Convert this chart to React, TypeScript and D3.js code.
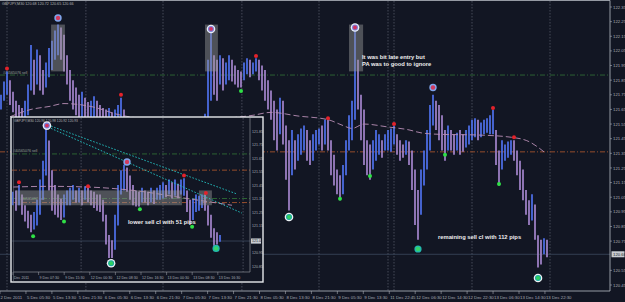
import React from "react";
import * as d3 from "d3";

// ---------- MAIN CHART DATA (GBPJPY M30) ----------
const mainHigh = [
  121.75, 121.84, 121.91, 121.85, 121.77, 121.71, 121.68, 121.66, 121.71, 121.82,
  122.09, 121.99, 122.06, 122.02, 121.92, 121.97, 122.07, 122.12, 122.19, 122.23,
  122.21, 122.16, 122.02, 121.92, 121.85, 121.80, 121.75, 121.77, 121.73, 121.70,
  121.71, 121.74, 121.71, 121.68, 121.66, 121.65, 121.66, 121.63, 121.65, 121.68,
  121.73, 121.65, 121.54, 121.50, 121.45, 121.42, 121.40, 121.44, 121.48, 121.46,
  121.42, 121.38, 121.35, 121.38, 121.42, 121.45, 121.48, 121.46, 121.43, 121.40,
  121.36, 121.30, 121.25, 121.28, 121.35, 121.45, 121.52, 121.58, 121.62, 121.99,
  122.19, 122.02, 121.99, 122.02, 122.00, 121.97, 122.02, 121.99, 121.95, 121.92,
  121.91, 121.97, 122.00, 121.99, 121.97, 122.00, 121.99, 121.95, 121.92, 121.85,
  121.78, 121.71, 121.65, 121.73, 121.71, 121.54, 121.44, 121.51, 121.44, 121.48,
  121.52, 121.54, 121.51, 121.44, 121.48, 121.51, 121.52, 121.54, 121.58, 121.58,
  121.44, 121.34, 121.24, 121.20, 121.27, 121.44, 121.61, 121.71, 122.19, 121.99,
  121.75, 121.65, 121.44, 121.41, 121.44, 121.51, 121.48, 121.44, 121.48, 121.51,
  121.52, 121.54, 121.48, 121.44, 121.41, 121.44, 121.43, 121.37, 121.24, 121.10,
  121.24, 121.37, 121.51, 121.68, 121.75, 121.71, 121.68, 121.61, 121.51, 121.54,
  121.51, 121.48, 121.49, 121.51, 121.48, 121.51, 121.54, 121.58, 121.59, 121.58,
  121.56, 121.58, 121.59, 121.61, 121.65, 121.51, 121.37, 121.44, 121.41, 121.43,
  121.44, 121.44, 121.37, 121.30, 121.24, 121.10, 121.03, 121.07, 121.00, 120.79,
  120.76, 120.77, 120.76,
];
const mainLow = [
  121.65, 121.71, 121.75, 121.68, 121.63, 121.59, 121.54, 121.51, 121.54, 121.61,
  121.78, 121.75, 121.82, 121.78, 121.75, 121.80, 121.87, 121.92, 121.99, 122.02,
  121.99, 121.91, 121.82, 121.71, 121.65, 121.61, 121.58, 121.59, 121.54, 121.51,
  121.52, 121.54, 121.51, 121.48, 121.44, 121.44, 121.46, 121.44, 121.46, 121.48,
  121.51, 121.48, 121.37, 121.35, 121.30, 121.25, 121.22, 121.28, 121.32, 121.30,
  121.26, 121.20, 121.15, 121.18, 121.25, 121.30, 121.33, 121.30, 121.28, 121.24,
  121.20, 121.12, 121.05, 121.10, 121.18, 121.28, 121.35, 121.42, 121.48, 121.59,
  121.71, 121.75, 121.71, 121.82, 121.78, 121.82, 121.85, 121.84, 121.82, 121.80,
  121.80, 121.85, 121.89, 121.87, 121.89, 121.91, 121.85, 121.78, 121.71, 121.65,
  121.58, 121.44, 121.37, 121.48, 121.41, 121.17, 120.96, 121.20, 121.24, 121.30,
  121.34, 121.37, 121.30, 121.27, 121.30, 121.37, 121.41, 121.37, 121.41, 121.37,
  121.20, 121.13, 121.07, 121.03, 121.07, 121.20, 121.37, 121.44, 121.58, 121.65,
  121.44, 121.27, 121.20, 121.17, 121.24, 121.30, 121.34, 121.32, 121.37, 121.37,
  121.36, 121.41, 121.34, 121.30, 121.32, 121.34, 121.27, 121.10, 120.86, 120.76,
  120.93, 121.13, 121.24, 121.37, 121.54, 121.51, 121.44, 121.37, 121.30, 121.37,
  121.37, 121.34, 121.37, 121.34, 121.36, 121.39, 121.41, 121.44, 121.46, 121.44,
  121.46, 121.48, 121.49, 121.48, 121.48, 121.27, 121.13, 121.24, 121.30, 121.32,
  121.34, 121.30, 121.20, 121.10, 121.03, 120.93, 120.86, 120.89, 120.76, 120.57,
  120.59, 120.66, 120.64,
];
const mainMaBar = [3, 10, 16, 21, 30, 40, 46, 60, 73, 84, 90, 99, 109, 114, 117, 121, 129, 136, 140, 146, 159, 170, 176, 181];
const mainMaVal = [121.60, 121.65, 121.67, 121.69, 121.67, 121.61, 121.59, 121.56, 121.585, 121.61, 121.63, 121.605, 121.58, 121.54, 121.52, 121.55, 121.53, 121.51, 121.49, 121.48, 121.475, 121.46, 121.43, 121.36];
// markers: [bar, price, kind]
const mainMarkers: [number, number, string][] = [
  [2, 121.93, "hi"], [40, 121.75, "hi"], [85, 122.015, "hi"], [109, 121.59, "hi"],
  [131, 121.55, "hi"], [164, 121.66, "hi"], [171, 121.46, "hi"],
  [80, 121.776, "lo"], [113, 121.04, "lo"], [123, 121.195, "lo"], [148, 121.34, "lo"], [166, 121.14, "lo"],
  [19, 122.275, "topB"], [70, 122.20, "topW"], [118, 122.21, "topW"], [144, 121.80, "topB"],
  [96, 120.915, "botW"], [139, 120.696, "botT"], [179, 120.498, "botW"],
];
// boxes: [startBar, endBar, high, low]
const mainBoxes: [number, number, number, number][] = [
  [16.7, 21.3, 122.23, 121.91], [68, 72.3, 122.23, 121.91], [116, 120.7, 122.23, 121.91],
];
const mainGridBars = [2, 28.3, 54, 80.3, 106, 129, 131, 157, 183];
const mainLevelSell = 121.885;
const mainLevelBrown = 121.36;
const mainCurrent = 120.66;
const mainPriceTicks = [122.35, 122.25, 122.15, 122.05, 121.95, 121.85, 121.75, 121.65, 121.55, 121.45, 121.35, 121.25, 121.15, 121.05, 120.95, 120.85, 120.75, 120.65, 120.55, 120.45];
const mainTimeLabels = [
  "2 Dec 2011", "5 Dec 05:30", "5 Dec 13:30", "5 Dec 21:30", "6 Dec 05:30", "6 Dec 13:30",
  "6 Dec 21:30", "7 Dec 05:30", "7 Dec 13:30", "7 Dec 21:30", "8 Dec 05:30", "8 Dec 13:30",
  "8 Dec 21:30", "9 Dec 05:30", "9 Dec 13:30", "11 Dec 22:45", "12 Dec 06:30", "12 Dec 14:30",
  "12 Dec 22:30", "13 Dec 06:30", "13 Dec 14:30", "13 Dec 22:30",
];

// ---------- INSET CHART DATA ----------
const insetHigh = [
  121.40, 121.41, 121.45, 121.38, 121.30, 121.26, 121.23, 121.25, 121.34, 121.49,
  121.63, 121.87, 121.78, 121.56, 121.45, 121.38, 121.35, 121.38, 121.41, 121.43,
  121.45, 121.41, 121.43, 121.41, 121.44, 121.43, 121.41, 121.40, 121.38, 121.38,
  121.34, 121.23, 121.08, 121.04, 121.23, 121.45, 121.56, 121.60, 121.58, 121.52,
  121.45, 121.41, 121.40, 121.43, 121.41, 121.40, 121.43, 121.41, 121.43, 121.45,
  121.47, 121.45, 121.49, 121.47, 121.49, 121.46, 121.49, 121.50, 121.41, 121.34,
  121.35, 121.38, 121.37, 121.38, 121.38, 121.30, 121.23, 121.13, 121.10, 121.08,
];
const insetLow = [
  121.30, 121.26, 121.30, 121.23, 121.18, 121.13, 121.10, 121.12, 121.15, 121.23,
  121.34, 121.52, 121.41, 121.26, 121.23, 121.21, 121.19, 121.21, 121.30, 121.30,
  121.34, 121.32, 121.32, 121.30, 121.34, 121.32, 121.30, 121.28, 121.26, 121.25,
  121.18, 121.01, 120.91, 120.91, 120.97, 121.15, 121.38, 121.41, 121.40, 121.34,
  121.30, 121.29, 121.29, 121.32, 121.32, 121.30, 121.32, 121.31, 121.34, 121.34,
  121.35, 121.36, 121.38, 121.35, 121.37, 121.35, 121.38, 121.37, 121.25, 121.16,
  121.19, 121.25, 121.26, 121.28, 121.26, 121.15, 121.06, 121.00, 121.01, 121.03,
];
const insetMaBar = [0, 12, 25, 40, 58, 73];
const insetMaVal = [121.435, 121.44, 121.435, 121.41, 121.35, 121.30];
const insetMarkers: [number, number, string][] = [
  [2, 121.47, "hi"], [25, 121.44, "hi"], [57, 121.52, "hi"], [64.3, 121.39, "hi"],
  [6.7, 121.07, "lo"], [17, 121.18, "lo"], [42.3, 121.27, "lo"], [59.7, 121.14, "lo"],
  [11.3, 121.89, "topW"], [38, 121.62, "topB"], [32.7, 120.87, "botW"], [67.7, 120.98, "botT"],
];
const insetBoxes: [number, number, number, number][] = [[1, 56.3, 121.41, 121.30], [62, 66.3, 121.41, 121.30]];
// trend lines: [bar1, price1, bar2, price2]
const insetTrend: [number, number, number, number][] = [[11.7, 121.894, 74.7, 121.383], [11.7, 121.879, 76.3, 121.242]];
const insetLevels: [number, string][] = [[121.68, "green"], [121.56, "brown"], [121.35, "green"], [121.32, "brown"]];
const insetGridBars = [22.7, 50, 76.7];
const insetCurrent = 121.035;
const insetPriceTicks = [121.85, 121.75, 121.65, 121.55, 121.45, 121.35, 121.25, 121.15, 121.05, 120.95, 120.85];
const insetTimeLabels = ["Dec 2011", "9 Dec 07:30", "9 Dec 15:30", "12 Dec 00:30", "12 Dec 08:30", "12 Dec 16:30", "13 Dec 00:30", "13 Dec 08:30", "13 Dec 16:30"];

const BG = "#121623";
const UP = "#4d6fe6";
const DN = "#9f82c8";
const AX = "#a9adb5";
const FONT = "Liberation Sans, Arial, sans-serif";

function Marker({ cx, cy, kind }: { cx: number; cy: number; kind: string }) {
  if (kind === "hi") return <circle cx={cx} cy={cy} r={2} fill="#e3232b" />;
  if (kind === "lo") return <circle cx={cx} cy={cy} r={2} fill="#2fe046" />;
  if (kind === "topW")
    return (
      <g>
        <circle cx={cx} cy={cy} r={4.3} fill="#e9eef8" />
        <circle cx={cx} cy={cy} r={3} fill="#7a7fd8" />
        <circle cx={cx} cy={cy} r={1.9} fill="#d2335e" />
      </g>
    );
  if (kind === "topB")
    return (
      <g>
        <circle cx={cx} cy={cy} r={3.7} fill="#80a6ec" />
        <circle cx={cx} cy={cy} r={2.2} fill="#d23a5e" />
      </g>
    );
  if (kind === "botW")
    return (
      <g>
        <circle cx={cx} cy={cy} r={4.3} fill="#eef3f6" />
        <circle cx={cx} cy={cy} r={3} fill="#1aa9a0" />
        <circle cx={cx} cy={cy} r={2} fill="#2fd060" />
      </g>
    );
  return (
    <g>
      <circle cx={cx} cy={cy} r={3.6} fill="#22b8b0" />
      <circle cx={cx} cy={cy} r={2.3} fill="#35d46a" />
    </g>
  );
}

function Bars({ hi, lo, x, y, w }: { hi: number[]; lo: number[]; x: any; y: any; w: number }) {
  return (
    <g>
      {hi.map((h, i) => {
        const mid = (h + lo[i]) / 2;
        const prev = i > 0 ? (hi[i - 1] + lo[i - 1]) / 2 : mid;
        const up = mid >= prev;
        return (
          <line key={i} x1={x(i)} x2={x(i)} y1={y(h)} y2={y(lo[i])} stroke={up ? UP : DN} strokeWidth={w} strokeOpacity={0.92} />
        );
      })}
    </g>
  );
}

export default function App() {
  // main scales
  const x = d3.scaleLinear().domain([0, mainHigh.length - 1]).range([1, 547]);
  const y = d3.scaleLinear().domain([120.45, 122.35]).range([285, 7]);
  const tx = d3.scaleLinear().domain([0, mainTimeLabels.length - 1]).range([0, 25.95 * (mainTimeLabels.length - 1)]);
  const maLine = d3.line<number>().x((d, i) => x(mainMaBar[i])).y((d) => y(d)).curve(d3.curveMonotoneX);

  // inset scales
  const ix = d3.scaleLinear().domain([0, insetHigh.length - 1]).range([13, 220]);
  const iy = d3.scaleLinear().domain([120.85, 121.85]).range([266, 131]);
  const itx = d3.scaleLinear().domain([0, insetTimeLabels.length - 1]).range([13, 13 + 25.6 * (insetTimeLabels.length - 1)]);
  const imaLine = d3.line<number>().x((d, i) => ix(insetMaBar[i])).y((d) => iy(d)).curve(d3.curveMonotoneX);

  const plotR = 610;
  const plotB = 291;
  const curY = y(mainCurrent);
  const icurY = iy(insetCurrent);

  return (
    <svg width={625} height={302} style={{ position: "fixed", left: 0, top: 0, background: BG }} fontFamily={FONT}>
      <rect x={0} y={0} width={625} height={302} fill={BG} />
      {/* main grid */}
      {mainGridBars.map((b, i) => (
        <line key={i} x1={x(b)} x2={x(b)} y1={1} y2={plotB} stroke="#5b6070" strokeWidth={0.7} strokeDasharray="1.5,1.5" />
      ))}
      {/* levels */}
      <line x1={0} x2={plotR} y1={y(mainLevelSell)} y2={y(mainLevelSell)} stroke="#2f6a34" strokeWidth={0.9} strokeDasharray="5,2,1,2" />
      <text x={3} y={y(mainLevelSell) - 1.5} fontSize={3.6} fill="#9aa09a">#40565076 sell</text>
      <line x1={0} x2={plotR} y1={y(mainLevelBrown)} y2={y(mainLevelBrown)} stroke="#a4522c" strokeWidth={0.9} strokeDasharray="5,2,1,2" />
      <line x1={0} x2={plotR} y1={curY} y2={curY} stroke="#3c4a60" strokeWidth={0.8} />
      {/* bars */}
      <Bars hi={mainHigh} lo={mainLow} x={x} y={y} w={1.9} />
      {/* MA */}
      <path d={maLine(mainMaVal) || ""} fill="none" stroke="#b98fb6" strokeWidth={0.9} strokeDasharray="6,3" />
      {/* boxes */}
      {mainBoxes.map((b, i) => (
        <rect key={i} x={x(b[0])} y={y(b[2])} width={x(b[1]) - x(b[0])} height={y(b[3]) - y(b[2])} fill="#9a9a9a" fillOpacity={0.45} />
      ))}
      {/* markers */}
      {mainMarkers.map((m, i) => (
        <Marker key={i} cx={x(m[0])} cy={y(m[1])} kind={m[2]} />
      ))}
      {/* annotations */}
      <text x={362} y={59} fontSize={5.8} fontWeight="bold" fill="#eeeeee">It was bit late entry but</text>
      <text x={362} y={65.5} fontSize={5.8} fontWeight="bold" fill="#eeeeee">PA was to good to ignore</text>
      <text x={438} y={239} fontSize={5.8} fontWeight="bold" fill="#eeeeee">remaining sell cl with 112 pips</text>
      <text x={2} y={4.5} fontSize={3.7} fill="#b4b4b4">GBPJPY,M30  120.68 120.72 120.65 120.66</text>

      {/* frame & axes */}
      <line x1={0} x2={plotR} y1={0.5} y2={0.5} stroke="#b8bcc4" strokeWidth={0.8} />
      <line x1={plotR} x2={plotR} y1={0.5} y2={plotB} stroke="#b8bcc4" strokeWidth={0.8} />
      <line x1={0} x2={plotR} y1={plotB} y2={plotB} stroke="#b8bcc4" strokeWidth={0.8} />
      {mainPriceTicks.filter((p) => Math.abs(y(p) - curY) > 6).map((p, i) => (
        <g key={i}>
          <line x1={plotR} x2={plotR + 2} y1={y(p)} y2={y(p)} stroke={AX} strokeWidth={0.6} />
          <text x={613} y={y(p) + 1.6} fontSize={4.3} fill={AX}>{p.toFixed(2)}</text>
        </g>
      ))}
      <rect x={611.5} y={curY - 3} width={13} height={6} fill="#c8ccd2" />
      <text x={613} y={curY + 1.6} fontSize={4.3} fill="#1a1e28">{mainCurrent.toFixed(2)}</text>
      {mainTimeLabels.map((t, i) => (
        <g key={i}>
          <line x1={tx(i)} x2={tx(i)} y1={plotB} y2={plotB + 3} stroke={AX} strokeWidth={0.6} />
          <text x={i === 0 ? 0.5 : tx(i) + 1} y={299} fontSize={4.3} fill={AX}>{t}</text>
        </g>
      ))}

      {/* ---------- INSET ---------- */}
      <g>
        <rect x={11} y={117} width={252} height={165} fill={BG} />
        {insetGridBars.map((b, i) => (
          <line key={i} x1={ix(b)} x2={ix(b)} y1={118} y2={272} stroke="#5b6070" strokeWidth={0.7} strokeDasharray="1.5,1.5" />
        ))}
        {insetLevels.map((l, i) => (
          <line key={i} x1={12} x2={250} y1={iy(l[0])} y2={iy(l[0])} stroke={l[1] === "green" ? "#2f6a34" : "#a4522c"} strokeWidth={0.9} strokeDasharray="5,2,1,2" />
        ))}
        <text x={13} y={iy(insetLevels[0][0]) - 1.5} fontSize={3.6} fill="#9aa09a">#40565076 sell</text>
        <text x={20} y={iy(insetLevels[2][0]) + 1} fontSize={3.6} fill="#9aa09a">#40565092 sell</text>
        <line x1={12} x2={250} y1={icurY} y2={icurY} stroke="#3c4a60" strokeWidth={0.8} />
        <Bars hi={insetHigh} lo={insetLow} x={ix} y={iy} w={1.9} />
        <path d={imaLine(insetMaVal) || ""} fill="none" stroke="#b98fb6" strokeWidth={0.9} strokeDasharray="6,3" />
        {insetBoxes.map((b, i) => (
          <rect key={i} x={ix(b[0])} y={iy(b[2])} width={ix(b[1]) - ix(b[0])} height={iy(b[3]) - iy(b[2])} fill="#9a9a9a" fillOpacity={0.45} />
        ))}
        {insetTrend.map((t, i) => (
          <line key={i} x1={ix(t[0])} y1={iy(t[1])} x2={ix(t[2])} y2={iy(t[3])} stroke="#22c4c4" strokeWidth={0.9} strokeDasharray="1.6,1.6" />
        ))}
        {insetMarkers.map((m, i) => (
          <Marker key={i} cx={ix(m[0])} cy={iy(m[1])} kind={m[2]} />
        ))}
        <text x={128} y={224} fontSize={5.8} fontWeight="bold" fill="#eeeeee">lower sell cl with 51 pips</text>
        <text x={14} y={121.5} fontSize={3.3} fill="#b4b4b4">GBPJPY,M30  120.96 120.98 120.92 120.93</text>
        <line x1={250} x2={250} y1={118} y2={272} stroke="#8a8e96" strokeWidth={0.7} />
        <line x1={13} x2={250} y1={272} y2={272} stroke="#8a8e96" strokeWidth={0.7} />
        {insetPriceTicks.filter((p) => Math.abs(iy(p) - icurY) > 6).map((p, i) => (
          <text key={i} x={252} y={iy(p) + 1.5} fontSize={3.6} fill={AX}>{p.toFixed(2)}</text>
        ))}
        <rect x={251} y={icurY - 2.6} width={10} height={5.2} fill="#c8ccd2" />
        <text x={252} y={icurY + 1.4} fontSize={3.6} fill="#1a1e28">{insetCurrent.toFixed(2)}</text>
        {insetTimeLabels.map((t, i) => (
          <g key={i}>
            <line x1={itx(i)} x2={itx(i)} y1={272} y2={275} stroke={AX} strokeWidth={0.5} />
            <text x={itx(i) + 1} y={279} fontSize={3.6} fill={AX}>{t}</text>
          </g>
        ))}
        <rect x={11} y={117} width={252} height={165} fill="none" stroke="#e6e8ec" strokeWidth={1.4} />
        <line x1={13.5} x2={13.5} y1={118} y2={281} stroke="#6a6e78" strokeWidth={0.6} />
      </g>
    </svg>
  );
}
